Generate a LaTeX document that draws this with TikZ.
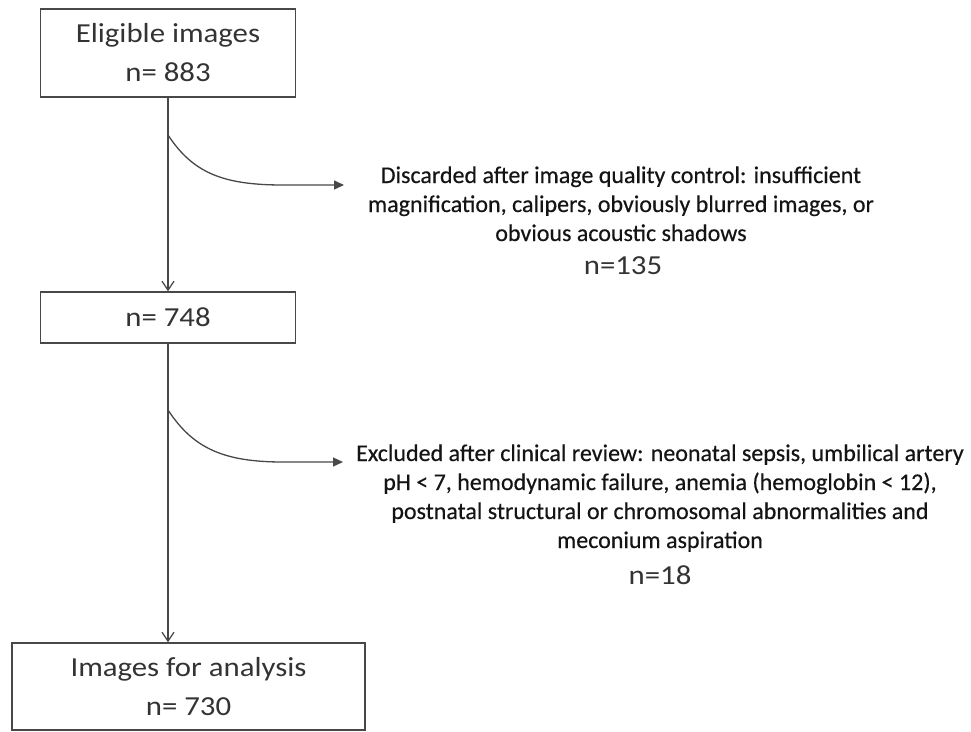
\documentclass[tikz,border=0pt]{standalone}
\usepackage{fontspec}
\setmainfont{Carlito}
\newfontfamily\boxfont[FakeStretch=1.12]{Carlito}
\newfontfamily\notefont[FakeBold=0.4]{Carlito}
\usetikzlibrary{arrows.meta,positioning}
\definecolor{linegray}{HTML}{484848}
\definecolor{textgray}{HTML}{333333}
\tikzset{
  countbox/.style={
    draw=linegray,
    line width=1.3pt,
    align=center,
    text=textgray,
    inner sep=0pt,
    font=\boxfont\fontsize{27.5}{39}\selectfont
  },
  flow/.style={
    -{Straight Barb[length=9pt,width=12pt]},
    line width=1.3pt,
    draw=linegray
  },
  drop/.style={
    -{Triangle[length=10pt,width=9pt]},
    line width=1.3pt,
    draw=linegray
  },
  note/.style={
    align=center,
    inner sep=0pt,
    text=black!92,
    font=\notefont\fontsize{24}{29}\selectfont
  },
  tally/.style={
    inner sep=0pt,
    text=textgray,
    font=\boxfont\fontsize{27.5}{30}\selectfont
  }
}

\begin{document}
\begin{tikzpicture}[x=1pt, y=-1pt]
  \useasboundingbox (0,0) rectangle (971,731);
  % count boxes
  \node[countbox, minimum width=255pt, minimum height=88pt] (eligible) at (168,53) {Eligible images\\n= 883};
  \node[countbox, minimum width=255pt, minimum height=51pt] (quality) at (168,317.5) {n= 748};
  \node[countbox, minimum width=353pt, minimum height=87pt] (analysis) at (188.5,686.5) {Images for analysis\\n= 730};

  % where the exclusions branch off
  \coordinate (split1) at (168,135);
  \coordinate (bend1) at (283,185);
  \coordinate (tip1) at (344,185);
  \coordinate (split2) at (168,410);
  \coordinate (bend2) at (283,462);
  \coordinate (tip2) at (343,462);

  % exclusion notes (base = last line)
  \node[note, anchor=base] (discarded) at (621,241) {Discarded after image quality control: insufficient\\magnification, calipers, obviously blurred images, or\\obvious acoustic shadows};
  \node[tally, anchor=base] (discardedn) at (623,274) {n=135};
  \node[note, anchor=base] (excluded) at (660,548) {Excluded after clinical review: neonatal sepsis, umbilical artery\\pH < 7, hemodynamic failure, anemia (hemoglobin < 12),\\postnatal structural or chromosomal abnormalities and\\meconium aspiration};
  \node[tally, anchor=base] (excludedn) at (660,584) {n=18};

  \draw[flow] (eligible) -- (quality);
  \draw[flow] (quality.south) -- (quality.south |- analysis.north);
  \draw[drop] (split1) .. controls +(25,38) and +(-60,0) .. (bend1) -- (tip1);
  \draw[drop] (split2) .. controls +(25,38) and +(-60,0) .. (bend2) -- (tip2);
\end{tikzpicture}
\end{document}
